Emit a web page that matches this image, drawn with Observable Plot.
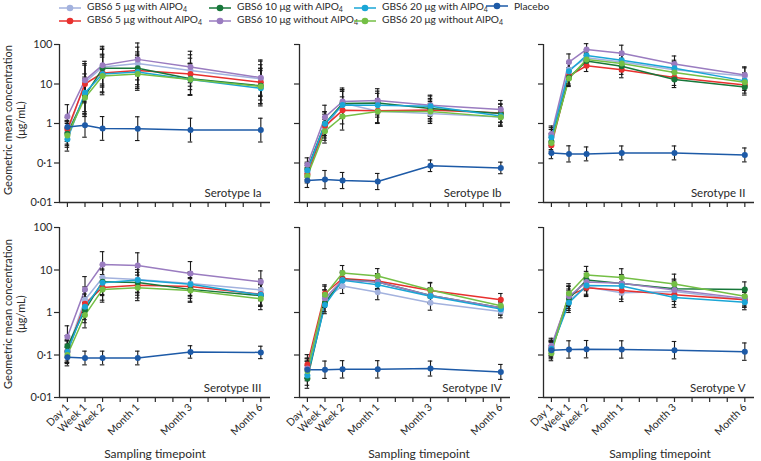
<!DOCTYPE html>
<html>
<head>
<meta charset="utf-8">
<script src="https://cdn.jsdelivr.net/npm/d3@7"></script>
<script src="https://cdn.jsdelivr.net/npm/@observablehq/plot@0.6"></script>
<style>
  body { margin: 0; background: #fff; }
  #root { position: relative; width: 761px; height: 461px; overflow: hidden;
          font-family: Lato, "Open Sans", sans-serif; color: #2a2a2a; }
  .panel { position: absolute; }
  .leg { position: absolute; display: flex; align-items: center; font-size: 10.2px; white-space: nowrap; line-height: 12px; }
  .leg svg { margin-right: 6px; }
  .leg sub { font-size: 7px; vertical-align: -2px; }
  .ytitle { position: absolute; width: 220px; text-align: center; font-size: 11px; line-height: 13px;
            transform: translate(-50%, -50%) rotate(-90deg); }
  .xtitle { position: absolute; font-size: 12px; transform: translate(-50%, -50%); white-space: nowrap; }
</style>
</head>
<body>
<div id="root"></div>
<script>
// ---------- data ----------
const timepoints = ["Day 1", "Week 1", "Week 2", "Month 1", "Month 3", "Month 6"];
const timepointSlot = [0, 1, 2, 4, 7, 11];   // slot on the 12-step sampling axis
const groups = [
  "GBS6 5 μg with AlPO4", "GBS6 5 μg without AlPO4",
  "GBS6 10 μg with AlPO4", "GBS6 10 μg without AlPO4",
  "GBS6 20 μg with AlPO4", "GBS6 20 μg without AlPO4",
  "Placebo"
];
const groupColors = ["#a3b2de", "#e8302e", "#17773a", "#9a7cc0", "#1aa6d6", "#74bf45", "#1d5aa7"];
const yTicks = [0.01, 0.1, 1, 10, 100];
const yTickLabels = ["0·01", "0·1", "1", "10", "100"];
const serotypes = ["Ia", "Ib", "II", "III", "IV", "V"];

// GMC (μg/mL), rows in groups order, columns in timepoints order
const gmcIa = [
  [0.6, 11, 27, 33, 22, 13.5],
  [0.7, 10, 19, 22, 18, 11],
  [0.55, 5, 25, 25, 13.5, 9],
  [1.5, 12.5, 30, 42, 27, 14.5],
  [0.4, 6, 18, 20, 13, 7.8],
  [0.5, 4.5, 16, 18, 13, 8.7],
  [0.82, 0.9, 0.75, 0.74, 0.68, 0.68]
];
const gmcIb = [
  [0.058, 0.75, 3.3, 2.05, 1.8, 1.45],
  [0.052, 0.86, 2.15, 2.1, 2.2, 1.85],
  [0.07, 1.0, 3.2, 3.3, 2.4, 1.8],
  [0.09, 1.45, 3.6, 3.8, 2.9, 2.25],
  [0.065, 0.98, 2.95, 2.9, 2.75, 1.55],
  [0.047, 0.64, 1.5, 2.0, 2.0, 1.45],
  [0.036, 0.038, 0.036, 0.034, 0.085, 0.075]
];
const gmcII = [
  [0.49, 23, 46, 36, 23, 16],
  [0.28, 16, 29, 23, 14.7, 9.4],
  [0.35, 14.6, 38, 28, 13, 8.4],
  [0.54, 36, 75, 60, 32, 17],
  [0.44, 21, 53, 40, 25, 12],
  [0.32, 13.8, 42, 33, 19.5, 11],
  [0.18, 0.17, 0.17, 0.18, 0.18, 0.16]
];
const gmcIII = [
  [0.13, 2.0, 6.6, 6.0, 4.8, 3.4],
  [0.12, 1.6, 3.9, 4.4, 4.1, 2.7],
  [0.16, 1.15, 5.3, 5.1, 3.5, 2.5],
  [0.27, 3.5, 13.5, 12.7, 8.3, 5.3],
  [0.12, 1.36, 5.0, 5.8, 4.6, 2.6],
  [0.1, 0.87, 3.5, 3.8, 3.3, 2.1],
  [0.088, 0.085, 0.085, 0.085, 0.118, 0.115]
];
const gmcIV = [
  [0.05, 2.1, 4.2, 3.0, 1.7, 1.05],
  [0.06, 2.8, 6.3, 5.5, 3.3, 2.0],
  [0.028, 1.67, 6.0, 5.2, 2.5, 1.3],
  [0.048, 2.15, 5.8, 5.2, 2.5, 1.3],
  [0.033, 1.5, 5.7, 4.5, 2.4, 1.2],
  [0.042, 2.6, 8.5, 7.2, 3.4, 1.44],
  [0.045, 0.045, 0.046, 0.046, 0.048, 0.04]
];
const gmcV = [
  [0.15, 1.9, 4.0, 2.9, 3.1, 2.0],
  [0.145, 2.5, 3.8, 3.3, 2.6, 2.0],
  [0.13, 2.1, 5.8, 4.8, 3.6, 3.5],
  [0.165, 2.4, 5.2, 4.9, 3.4, 2.15],
  [0.14, 1.7, 4.3, 4.2, 2.25, 1.74],
  [0.11, 2.8, 7.6, 6.7, 4.7, 2.4],
  [0.13, 0.135, 0.137, 0.135, 0.13, 0.12]
];
// 95% CI half-width as a multiplicative factor (vaccine groups / placebo), per timepoint
const ciVaccine = [
  [2.0, 3.0, 3.0, 2.6, 2.5, 2.8],
  [1.5, 2.0, 2.2, 2.0, 1.8, 1.7],
  [1.6, 1.6, 1.4, 1.6, 1.6, 1.6],
  [1.8, 2.0, 2.0, 2.0, 1.9, 1.8],
  [1.7, 1.6, 1.5, 1.5, 1.5, 1.4],
  [1.5, 1.7, 1.6, 1.6, 1.7, 1.5]
];
const ciPlacebo = [
  [1.4, 2.0, 2.0, 2.0, 2.0, 2.0],
  [1.5, 1.7, 1.6, 1.6, 1.4, 1.4],
  [1.4, 1.6, 1.5, 1.5, 1.5, 1.5],
  [1.4, 1.45, 1.45, 1.45, 1.4, 1.4],
  [1.6, 1.6, 1.6, 1.6, 1.5, 1.5],
  [1.6, 1.6, 1.6, 1.6, 1.6, 1.6]
];
const panelGmc = [gmcIa, gmcIb, gmcII, gmcIII, gmcIV, gmcV];

// ---------- layout ----------
const root = document.getElementById("root");
const colAxisX = [59, 299, 543];
const rowFrame = [{ top: 44, h: 158, mb: 12 }, { top: 227, h: 170, mb: 54 }];
const innerW = 211;
const xDomain = [-0.45, 11.55];
const ink = "#2a2a2a";

function buildRows(gmc, errV, errP) {
  const rows = [];
  groups.forEach((g, gi) => gmc[gi].forEach((v, ti) => {
    const f = gi === groups.length - 1 ? errP[ti] : errV[ti];
    rows.push({ group: g, slot: timepointSlot[ti], gmc: v, lo: v / f, hi: v * f });
  }));
  return rows;
}

serotypes.forEach((s, p) => {
  const col = p % 3, row = Math.floor(p / 3);
  const fr = rowFrame[row];
  const marginLeft = col === 0 ? 45 : 12, marginRight = 6, marginTop = 8;
  const width = marginLeft + innerW + marginRight;
  const height = marginTop + fr.h + fr.mb;
  const rows = buildRows(panelGmc[p], ciVaccine[p], ciPlacebo[p]);
  const slotLabel = (v) => {
    const i = timepointSlot.indexOf(v);
    return row === 1 && i >= 0 ? timepoints[i] : "";
  };
  const chart = Plot.plot({
    width, height, marginLeft, marginRight, marginTop, marginBottom: fr.mb,
    style: { background: "none", overflow: "visible", fontFamily: "Lato, 'Open Sans', sans-serif", color: ink },
    x: { domain: xDomain, axis: null, label: null },
    y: { type: "log", domain: [0.01, 100], axis: null, label: null },
    color: { domain: groups, range: groupColors },
    marks: [
      Plot.ruleX([xDomain[0]], { y1: 0.01, y2: 100, stroke: ink, strokeWidth: 1.3 }),
      Plot.ruleY([0.01], { x1: xDomain[0], x2: xDomain[1], stroke: ink, strokeWidth: 1.3 }),
      Plot.axisY({
        ticks: yTicks, tickSize: 5, tickPadding: 2, label: null, fontSize: 11,
        stroke: ink, strokeWidth: 1.2,
        tickFormat: (v) => col === 0 ? yTickLabels[yTicks.indexOf(v)] : ""
      }),
      Plot.axisX({
        ticks: d3.range(12), tickSize: 5, tickPadding: 3, label: null, fontSize: 10.5,
        stroke: ink, strokeWidth: 1.2, tickRotate: -45,
        tickFormat: slotLabel
      }),
      Plot.line(rows, { x: "slot", y: "gmc", z: "group", stroke: "group", strokeWidth: 1.5 }),
      Plot.ruleX(rows, { x: "slot", y1: "lo", y2: "hi", stroke: "#1a1a1a", strokeWidth: 1.1 }),
      Plot.ruleY(rows, { y: "hi", x1: (d) => d.slot - 0.13, x2: (d) => d.slot + 0.13, stroke: "#1a1a1a", strokeWidth: 1.1 }),
      Plot.ruleY(rows, { y: "lo", x1: (d) => d.slot - 0.13, x2: (d) => d.slot + 0.13, stroke: "#1a1a1a", strokeWidth: 1.1 }),
      Plot.dot(rows, { x: "slot", y: "gmc", fill: "group", r: 3 }),
      Plot.text([`Serotype ${s}`], { frameAnchor: "bottom-right", dx: -9, dy: -6, fontSize: 11.5, fill: ink })
    ]
  });
  chart.classList.add("panel");
  chart.style.left = (colAxisX[col] - marginLeft) + "px";
  chart.style.top = (fr.top - marginTop) + "px";
  root.appendChild(chart);
});

// y-axis titles
[120, 314].forEach((cy) => {
  const t = document.createElement("div");
  t.className = "ytitle";
  t.style.left = "14px";
  t.style.top = cy + "px";
  t.innerHTML = "Geometric mean concentration<br>(μg/mL)";
  root.appendChild(t);
});
// x-axis titles
[155, 419, 660].forEach((cx) => {
  const t = document.createElement("div");
  t.className = "xtitle";
  t.style.left = cx + "px";
  t.style.top = "453px";
  t.textContent = "Sampling timepoint";
  root.appendChild(t);
});

// legend
const legendOrder = [[0, 2, 4, 6], [1, 3, 5]];
const legendColX = [59, 209, 354, 486];
const legendRowY = [6, 19];
legendOrder.forEach((items, r) => items.forEach((gi, c) => {
  const el = document.createElement("div");
  el.className = "leg";
  el.style.left = legendColX[c] + "px";
  el.style.top = (legendRowY[r] - 6) + "px";
  const sw = d3.create("svg").attr("width", 22).attr("height", 12);
  sw.append("line").attr("x1", 0).attr("x2", 22).attr("y1", 6).attr("y2", 6)
    .attr("stroke", groupColors[gi]).attr("stroke-width", 1.5);
  sw.append("circle").attr("cx", 11).attr("cy", 6).attr("r", 3.3).attr("fill", groupColors[gi]);
  el.appendChild(sw.node());
  const span = document.createElement("span");
  span.innerHTML = groups[gi].replace("AlPO4", "AlPO<sub>4</sub>");
  el.appendChild(span);
  root.appendChild(el);
}));
</script>
</body>
</html>
